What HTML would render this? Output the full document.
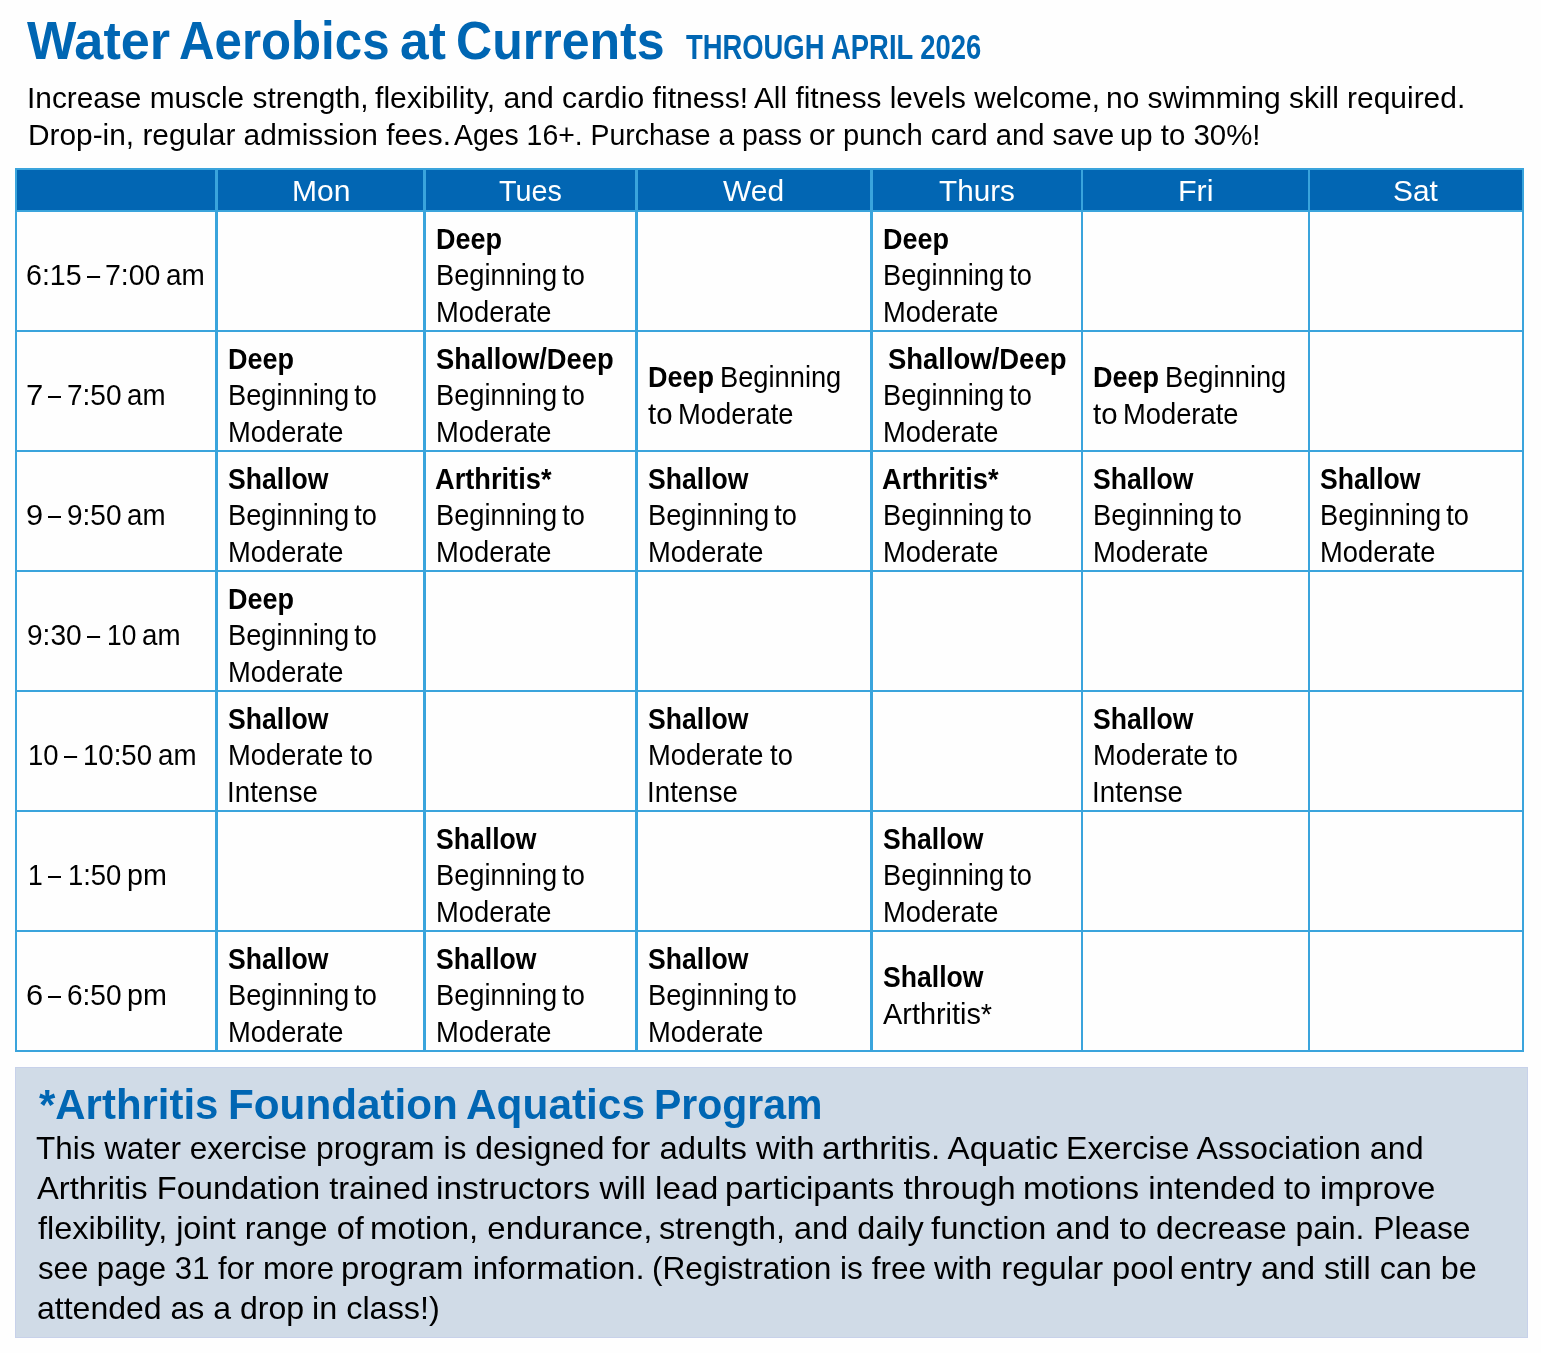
<!DOCTYPE html>
<html lang="en">
<head>
<meta charset="utf-8">
<title>Water Aerobics at Currents</title>
<style>
html,body{margin:0;padding:0;background:#fefefe;}
body{width:1541px;height:1353px;position:relative;overflow:hidden;font-family:"Liberation Sans",sans-serif;color:#000;}
.t{position:absolute;display:block;white-space:nowrap;line-height:1;transform-origin:0 0;margin:0;padding:0;font-weight:400;font-size:29px;}
.b{font-weight:700;}
.u{color:#0066b3;}
.w{color:#fff;}
h1,h2{margin:0;padding:0;font-size:0;line-height:0;font-weight:400;}
.g{font-size:0;line-height:0;margin:0;padding:0;}
.ln{position:absolute;background:#3aa4dc;}
.hd{position:absolute;left:15px;top:168px;width:1509px;height:44px;background:#0266b3;}
.ft{position:absolute;left:15px;top:1067px;width:1511px;height:269px;background:#d0dbe7;border:1px solid #c7d1ea;}
</style>
</head>
<body>
<div class="hd"></div>
<div class="ft"></div>
<div class="ln" style="left:15px;top:168px;width:1509px;height:2px"></div>
<div class="ln" style="left:15px;top:210px;width:1509px;height:2px"></div>
<div class="ln" style="left:15px;top:330px;width:1509px;height:2px"></div>
<div class="ln" style="left:15px;top:450px;width:1509px;height:2px"></div>
<div class="ln" style="left:15px;top:570px;width:1509px;height:2px"></div>
<div class="ln" style="left:15px;top:690px;width:1509px;height:2px"></div>
<div class="ln" style="left:15px;top:810px;width:1509px;height:2px"></div>
<div class="ln" style="left:15px;top:930px;width:1509px;height:2px"></div>
<div class="ln" style="left:15px;top:1050px;width:1509px;height:2px"></div>
<div class="ln" style="left:15px;top:168px;width:2px;height:884px"></div>
<div class="ln" style="left:215px;top:168px;width:3px;height:884px"></div>
<div class="ln" style="left:423px;top:168px;width:3px;height:884px"></div>
<div class="ln" style="left:635px;top:168px;width:3px;height:884px"></div>
<div class="ln" style="left:870px;top:168px;width:3px;height:884px"></div>
<div class="ln" style="left:1081px;top:168px;width:2px;height:884px"></div>
<div class="ln" style="left:1308px;top:168px;width:2px;height:884px"></div>
<div class="ln" style="left:1522px;top:168px;width:2px;height:884px"></div>
<h1>
<span class="t b u" style="left:26.91px;top:14px;font-size:53.8px;transform:scaleX(0.9706)">Water</span> 
<span class="t b u" style="left:178.6px;top:14px;font-size:53.8px;transform:scaleX(0.9144)">Aerobics</span> 
<span class="t b u" style="left:399.74px;top:14px;font-size:53.8px;transform:scaleX(0.9577)">at</span> 
<span class="t b u" style="left:456.41px;top:14px;font-size:53.8px;transform:scaleX(0.9305)">Currents</span> 
<span class="t b u" style="left:685.68px;top:30px;font-size:34.9px;transform:scaleX(0.785)">THROUGH APRIL 2026</span> 
</h1>
<p class="g">
<span class="t" style="left:27.45px;top:84px;transform:scaleX(1.0286)">Increase muscle strength,</span> 
<span class="t" style="left:374.96px;top:84px;transform:scaleX(1.0395)">flexibility, and cardio fitness!</span> 
<span class="t" style="left:753.71px;top:84px;transform:scaleX(1.0272)">All fitness levels welcome,</span> 
<span class="t" style="left:1105.58px;top:84px;transform:scaleX(1.0319)">no swimming skill required.</span> 
</p>
<p class="g">
<span class="t" style="left:27.74px;top:121px;transform:scaleX(1.029)">Drop-in, regular admission fees.</span> 
<span class="t" style="left:454.22px;top:121px;transform:scaleX(0.9791)">Ages 16+. Purchase a pass</span> 
<span class="t" style="left:809.03px;top:121px;transform:scaleX(1.0073)">or punch card and save</span> 
<span class="t" style="left:1120.28px;top:121px;transform:scaleX(1.0134)">up to 30%!</span> 
</p>
<div class="t w" style="left:291.52px;top:177px;transform:scaleX(1.0364)">Mon</div>
<div class="t w" style="left:499.15px;top:177px;transform:scaleX(0.9912)">Tues</div>
<div class="t w" style="left:723.4px;top:177px;transform:scaleX(1.033)">Wed</div>
<div class="t w" style="left:938.93px;top:177px;transform:scaleX(1.0234)">Thurs</div>
<div class="t w" style="left:1178.29px;top:177px;transform:scaleX(1.0501)">Fri</div>
<div class="t w" style="left:1393.42px;top:177px;transform:scaleX(1.031)">Sat</div>
<div class="g">
<span class="t" style="left:26.31px;top:261px;transform:scaleX(0.9853)">6:15</span> 
<span class="t" style="left:86.9px;top:261px;transform:scaleX(0.8134)">–</span> 
<span class="t" style="left:105.33px;top:261px;transform:scaleX(0.9829)">7:00</span> 
<span class="t" style="left:166.24px;top:261px;transform:scaleX(0.9628)">am</span> 
</div>
<div class="g">
<span class="t" style="left:26.3px;top:381px;transform:scaleX(1.0714)">7</span> 
<span class="t" style="left:48px;top:381px;transform:scaleX(0.8072)">–</span> 
<span class="t" style="left:66.56px;top:381px;transform:scaleX(0.9662)">7:50</span> 
<span class="t" style="left:127.35px;top:381px;transform:scaleX(0.9547)">am</span> 
</div>
<div class="g">
<span class="t" style="left:26.41px;top:501px;transform:scaleX(1.0612)">9</span> 
<span class="t" style="left:48px;top:501px;transform:scaleX(0.8072)">–</span> 
<span class="t" style="left:66.64px;top:501px;transform:scaleX(0.9646)">9:50</span> 
<span class="t" style="left:127.35px;top:501px;transform:scaleX(0.9547)">am</span> 
</div>
<div class="g">
<span class="t" style="left:26.54px;top:621px;transform:scaleX(0.9683)">9:30</span> 
<span class="t" style="left:87.1px;top:621px;transform:scaleX(0.8134)">–</span> 
<span class="t" style="left:106.58px;top:621px;transform:scaleX(0.9073)">10</span> 
<span class="t" style="left:142.35px;top:621px;transform:scaleX(0.9547)">am</span> 
</div>
<div class="g">
<span class="t" style="left:27.6px;top:741px;transform:scaleX(0.9452)">10</span> 
<span class="t" style="left:63.9px;top:741px;transform:scaleX(0.8134)">–</span> 
<span class="t" style="left:82.69px;top:741px;transform:scaleX(0.9504)">10:50</span> 
<span class="t" style="left:158.35px;top:741px;transform:scaleX(0.9547)">am</span> 
</div>
<div class="g">
<span class="t" style="left:27.67px;top:861px;transform:scaleX(0.9136)">1</span> 
<span class="t" style="left:48px;top:861px;transform:scaleX(0.8072)">–</span> 
<span class="t" style="left:67.7px;top:861px;transform:scaleX(0.9455)">1:50</span> 
<span class="t" style="left:127.02px;top:861px;transform:scaleX(0.9894)">pm</span> 
</div>
<div class="g">
<span class="t" style="left:26.3px;top:981px;transform:scaleX(1.0619)">6</span> 
<span class="t" style="left:48px;top:981px;transform:scaleX(0.8072)">–</span> 
<span class="t" style="left:66.54px;top:981px;transform:scaleX(0.9664)">6:50</span> 
<span class="t" style="left:127.02px;top:981px;transform:scaleX(0.9894)">pm</span> 
</div>
<div class="g">
<span class="t b" style="left:436.2px;top:225px;transform:scaleX(0.9294)">Deep</span> 
<span class="t" style="left:435.76px;top:261px;word-spacing:-2.72px;transform:scaleX(0.9392)">Beginning to</span> 
<span class="t" style="left:435.75px;top:298px;transform:scaleX(0.942)">Moderate</span> 
</div>
<div class="g">
<span class="t b" style="left:883.2px;top:225px;transform:scaleX(0.9294)">Deep</span> 
<span class="t" style="left:882.76px;top:261px;word-spacing:-2.72px;transform:scaleX(0.9392)">Beginning to</span> 
<span class="t" style="left:882.75px;top:298px;transform:scaleX(0.942)">Moderate</span> 
</div>
<div class="g">
<span class="t b" style="left:228.2px;top:345px;transform:scaleX(0.9294)">Deep</span> 
<span class="t" style="left:227.76px;top:381px;word-spacing:-2.72px;transform:scaleX(0.9392)">Beginning to</span> 
<span class="t" style="left:227.75px;top:418px;transform:scaleX(0.942)">Moderate</span> 
</div>
<div class="g">
<span class="t b" style="left:435.83px;top:345px;transform:scaleX(0.9425)">Shallow/Deep</span> 
<span class="t" style="left:435.76px;top:381px;word-spacing:-2.72px;transform:scaleX(0.9392)">Beginning to</span> 
<span class="t" style="left:435.75px;top:418px;transform:scaleX(0.942)">Moderate</span> 
</div>
<div class="g">
<span class="t b" style="left:648.2px;top:363px;transform:scaleX(0.9308)">Deep</span> 
<span class="t" style="left:719.96px;top:363px;transform:scaleX(0.94)">Beginning</span> 
<span class="t" style="left:647.85px;top:400px;transform:scaleX(1.0146)">to</span> 
<span class="t" style="left:677.75px;top:400px;transform:scaleX(0.942)">Moderate</span> 
</div>
<div class="g">
<span class="t b" style="left:887.83px;top:345px;transform:scaleX(0.9462)">Shallow/Deep</span> 
<span class="t" style="left:882.76px;top:381px;word-spacing:-2.72px;transform:scaleX(0.9392)">Beginning to</span> 
<span class="t" style="left:882.75px;top:418px;transform:scaleX(0.942)">Moderate</span> 
</div>
<div class="g">
<span class="t b" style="left:1093.2px;top:363px;transform:scaleX(0.9308)">Deep</span> 
<span class="t" style="left:1164.96px;top:363px;transform:scaleX(0.94)">Beginning</span> 
<span class="t" style="left:1092.85px;top:400px;transform:scaleX(1.0146)">to</span> 
<span class="t" style="left:1122.75px;top:400px;transform:scaleX(0.942)">Moderate</span> 
</div>
<div class="g">
<span class="t b" style="left:227.86px;top:465px;transform:scaleX(0.9165)">Shallow</span> 
<span class="t" style="left:227.76px;top:501px;word-spacing:-2.72px;transform:scaleX(0.9392)">Beginning to</span> 
<span class="t" style="left:227.75px;top:538px;transform:scaleX(0.942)">Moderate</span> 
</div>
<div class="g">
<span class="t b" style="left:435.15px;top:465px;transform:scaleX(0.9388)">Arthritis*</span> 
<span class="t" style="left:435.76px;top:501px;word-spacing:-2.72px;transform:scaleX(0.9392)">Beginning to</span> 
<span class="t" style="left:435.75px;top:538px;transform:scaleX(0.942)">Moderate</span> 
</div>
<div class="g">
<span class="t b" style="left:647.86px;top:465px;transform:scaleX(0.9165)">Shallow</span> 
<span class="t" style="left:647.76px;top:501px;word-spacing:-2.72px;transform:scaleX(0.9392)">Beginning to</span> 
<span class="t" style="left:647.75px;top:538px;transform:scaleX(0.942)">Moderate</span> 
</div>
<div class="g">
<span class="t b" style="left:882.15px;top:465px;transform:scaleX(0.9388)">Arthritis*</span> 
<span class="t" style="left:882.76px;top:501px;word-spacing:-2.72px;transform:scaleX(0.9392)">Beginning to</span> 
<span class="t" style="left:882.75px;top:538px;transform:scaleX(0.942)">Moderate</span> 
</div>
<div class="g">
<span class="t b" style="left:1092.86px;top:465px;transform:scaleX(0.9165)">Shallow</span> 
<span class="t" style="left:1092.76px;top:501px;word-spacing:-2.72px;transform:scaleX(0.9392)">Beginning to</span> 
<span class="t" style="left:1092.75px;top:538px;transform:scaleX(0.942)">Moderate</span> 
</div>
<div class="g">
<span class="t b" style="left:1319.86px;top:465px;transform:scaleX(0.9165)">Shallow</span> 
<span class="t" style="left:1319.76px;top:501px;word-spacing:-2.72px;transform:scaleX(0.9392)">Beginning to</span> 
<span class="t" style="left:1319.75px;top:538px;transform:scaleX(0.942)">Moderate</span> 
</div>
<div class="g">
<span class="t b" style="left:228.2px;top:585px;transform:scaleX(0.9294)">Deep</span> 
<span class="t" style="left:227.76px;top:621px;word-spacing:-2.72px;transform:scaleX(0.9392)">Beginning to</span> 
<span class="t" style="left:227.75px;top:658px;transform:scaleX(0.942)">Moderate</span> 
</div>
<div class="g">
<span class="t b" style="left:227.86px;top:705px;transform:scaleX(0.9165)">Shallow</span> 
<span class="t" style="left:227.75px;top:741px;word-spacing:-0.98px;transform:scaleX(0.942)">Moderate to</span> 
<span class="t" style="left:227.44px;top:778px;transform:scaleX(0.9562)">Intense</span> 
</div>
<div class="g">
<span class="t b" style="left:647.86px;top:705px;transform:scaleX(0.9165)">Shallow</span> 
<span class="t" style="left:647.75px;top:741px;word-spacing:-0.98px;transform:scaleX(0.942)">Moderate to</span> 
<span class="t" style="left:647.44px;top:778px;transform:scaleX(0.9562)">Intense</span> 
</div>
<div class="g">
<span class="t b" style="left:1092.86px;top:705px;transform:scaleX(0.9165)">Shallow</span> 
<span class="t" style="left:1092.75px;top:741px;word-spacing:-0.98px;transform:scaleX(0.942)">Moderate to</span> 
<span class="t" style="left:1092.44px;top:778px;transform:scaleX(0.9562)">Intense</span> 
</div>
<div class="g">
<span class="t b" style="left:435.86px;top:825px;transform:scaleX(0.9165)">Shallow</span> 
<span class="t" style="left:435.76px;top:861px;word-spacing:-2.72px;transform:scaleX(0.9392)">Beginning to</span> 
<span class="t" style="left:435.75px;top:898px;transform:scaleX(0.942)">Moderate</span> 
</div>
<div class="g">
<span class="t b" style="left:882.86px;top:825px;transform:scaleX(0.9165)">Shallow</span> 
<span class="t" style="left:882.76px;top:861px;word-spacing:-2.72px;transform:scaleX(0.9392)">Beginning to</span> 
<span class="t" style="left:882.75px;top:898px;transform:scaleX(0.942)">Moderate</span> 
</div>
<div class="g">
<span class="t b" style="left:227.86px;top:945px;transform:scaleX(0.9165)">Shallow</span> 
<span class="t" style="left:227.76px;top:981px;word-spacing:-2.72px;transform:scaleX(0.9392)">Beginning to</span> 
<span class="t" style="left:227.75px;top:1018px;transform:scaleX(0.942)">Moderate</span> 
</div>
<div class="g">
<span class="t b" style="left:435.86px;top:945px;transform:scaleX(0.9165)">Shallow</span> 
<span class="t" style="left:435.76px;top:981px;word-spacing:-2.72px;transform:scaleX(0.9392)">Beginning to</span> 
<span class="t" style="left:435.75px;top:1018px;transform:scaleX(0.942)">Moderate</span> 
</div>
<div class="g">
<span class="t b" style="left:647.86px;top:945px;transform:scaleX(0.9165)">Shallow</span> 
<span class="t" style="left:647.76px;top:981px;word-spacing:-2.72px;transform:scaleX(0.9392)">Beginning to</span> 
<span class="t" style="left:647.75px;top:1018px;transform:scaleX(0.942)">Moderate</span> 
</div>
<div class="g">
<span class="t b" style="left:882.86px;top:963px;transform:scaleX(0.9165)">Shallow</span> 
<span class="t" style="left:882.81px;top:1000px;transform:scaleX(0.9958)">Arthritis*</span> 
</div>
<h2>
<span class="t b u" style="left:39.13px;top:1084px;font-size:42.1px;transform:scaleX(0.9961)">*Arthritis</span> 
<span class="t b u" style="left:228.28px;top:1084px;font-size:42.1px;transform:scaleX(1.0032)">Foundation</span> 
<span class="t b u" style="left:466.14px;top:1084px;font-size:42.1px;transform:scaleX(1.0069)">Aquatics</span> 
<span class="t b u" style="left:654.46px;top:1084px;font-size:42.1px;transform:scaleX(0.9735)">Program</span> 
</h2>
<p class="g">
<span class="t" style="left:36.49px;top:1132px;font-size:32px;transform:scaleX(0.9829)">This water exercise</span> 
<span class="t" style="left:315.5px;top:1132px;font-size:32px;transform:scaleX(0.9951)">program is designed</span> 
<span class="t" style="left:611.83px;top:1132px;font-size:32px;transform:scaleX(1.0256)">for adults with</span> 
<span class="t" style="left:822.22px;top:1132px;font-size:32px;transform:scaleX(1.0385)">arthritis. Aquatic</span> 
<span class="t" style="left:1066.36px;top:1132px;font-size:32px;transform:scaleX(1.005)">Exercise Association and</span> 
</p>
<p class="g">
<span class="t" style="left:37.31px;top:1172px;font-size:32px;transform:scaleX(1.0202)">Arthritis Foundation trained</span> 
<span class="t" style="left:436.14px;top:1172px;font-size:32px;transform:scaleX(1.0443)">instructors will lead</span> 
<span class="t" style="left:725.42px;top:1172px;font-size:32px;transform:scaleX(1.0345)">participants through</span> 
<span class="t" style="left:1023.45px;top:1172px;font-size:32px;transform:scaleX(1.0355)">motions intended</span> 
<span class="t" style="left:1283.6px;top:1172px;font-size:32px;transform:scaleX(1.0134)">to improve</span> 
</p>
<p class="g">
<span class="t" style="left:37.73px;top:1212px;font-size:32px;transform:scaleX(1.0135)">flexibility, joint range of</span> 
<span class="t" style="left:369.86px;top:1212px;font-size:32px;transform:scaleX(1.0307)">motion, endurance,</span> 
<span class="t" style="left:659.13px;top:1212px;font-size:32px;transform:scaleX(1.0127)">strength, and daily</span> 
<span class="t" style="left:931.02px;top:1212px;font-size:32px;transform:scaleX(1.0284)">function and to</span> 
<span class="t" style="left:1155.53px;top:1212px;font-size:32px;transform:scaleX(0.993)">decrease pain. Please</span> 
</p>
<p class="g">
<span class="t" style="left:37.67px;top:1252px;font-size:32px;transform:scaleX(0.9733)">see page 31 for more</span> 
<span class="t" style="left:341.43px;top:1252px;font-size:32px;transform:scaleX(1.0282)">program information.</span> 
<span class="t" style="left:652.41px;top:1252px;font-size:32px;transform:scaleX(0.988)">(Registration is free</span> 
<span class="t" style="left:933.9px;top:1252px;font-size:32px;transform:scaleX(1.0219)">with regular pool</span> 
<span class="t" style="left:1180.08px;top:1252px;font-size:32px;transform:scaleX(1.0114)">entry and still can be</span> 
</p>
<p class="g">
<span class="t" style="left:37.47px;top:1292px;font-size:32px;transform:scaleX(1.0008)">attended as a drop</span> 
<span class="t" style="left:312.01px;top:1292px;font-size:32px;transform:scaleX(1.0126)">in class!)</span> 
</p>
</body>
</html>
